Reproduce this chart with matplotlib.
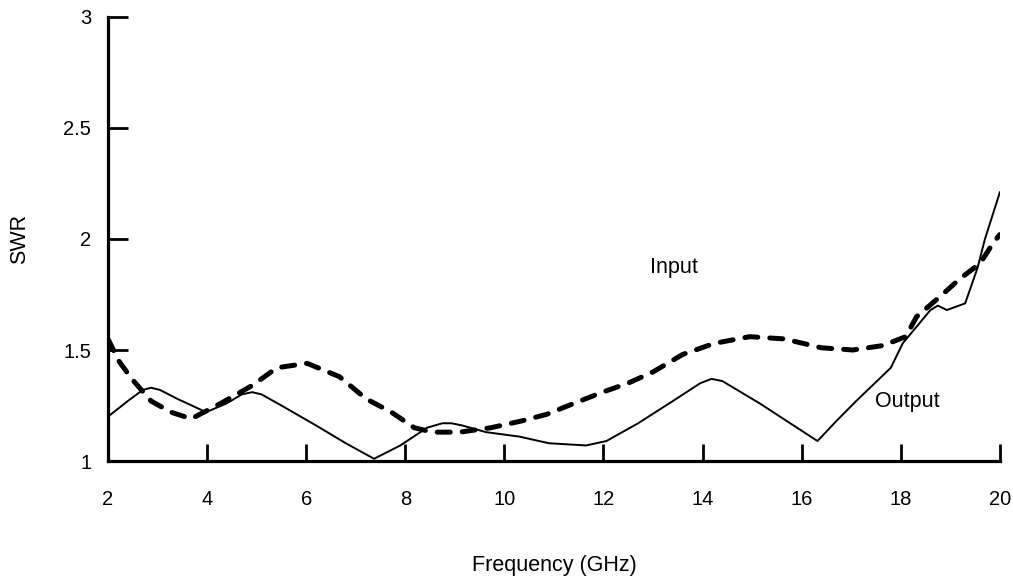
import matplotlib.pyplot as plt

# SWR vs frequency
freq_out = [2.0, 2.4, 2.7, 2.87, 3.05, 3.4, 3.98, 4.4, 4.7, 4.91, 5.1, 5.5, 6.2, 6.8, 7.37, 7.9, 8.44,
            8.75, 8.93, 9.15, 9.63, 10.3, 10.9, 11.65, 12.06, 12.7, 13.4, 13.95, 14.18, 14.4, 15.15,
            15.7, 16.32, 16.7, 17.1, 17.8, 18.04, 18.6, 18.75, 18.93, 19.3, 19.55, 19.7, 20.0]
swr_out = [1.20, 1.27, 1.32, 1.33, 1.32, 1.28, 1.22, 1.26, 1.30, 1.31, 1.30, 1.25, 1.16, 1.08, 1.01,
           1.07, 1.15, 1.17, 1.17, 1.16, 1.13, 1.11, 1.08, 1.07, 1.09, 1.17, 1.27, 1.35, 1.37, 1.36,
           1.26, 1.18, 1.09, 1.18, 1.27, 1.42, 1.53, 1.68, 1.70, 1.68, 1.71, 1.87, 2.0, 2.21]

freq_in = [2.0, 2.22, 2.48, 2.87, 3.27, 3.68, 4.28, 4.91, 5.41, 6.02, 6.67, 7.21, 7.72, 8.18, 8.55,
           9.1, 9.73, 10.34, 10.85, 11.41, 11.98, 12.49, 12.99, 13.6, 14.24, 14.95, 15.65, 16.4,
           17.03, 17.64, 18.1, 18.32, 18.79, 19.19, 19.6, 19.86, 20.0]
swr_in = [1.55, 1.45, 1.37, 1.27, 1.22, 1.19, 1.26, 1.34, 1.42, 1.44, 1.38, 1.28, 1.22, 1.15, 1.13,
          1.13, 1.15, 1.18, 1.21, 1.26, 1.31, 1.35, 1.40, 1.48, 1.53, 1.56, 1.55, 1.51,
          1.50, 1.52, 1.56, 1.65, 1.74, 1.82, 1.89, 1.98, 2.02]

x_ticks = [2, 4, 6, 8, 10, 12, 14, 16, 18, 20]
y_ticks = [1, 1.5, 2, 2.5, 3]
y_tick_labels = ['1', '1.5', '2', '2.5', '3']

plt.rcParams['font.family'] = ['Liberation Sans', 'DejaVu Sans']
plt.rcParams['font.size'] = 15.5

fig = plt.figure(figsize=(10.13, 5.82), dpi=100)
ax = fig.add_axes([0.1066, 0.2079, 0.8804, 0.7629])

ax.plot(freq_out, swr_out, color='black', lw=1.4, solid_joinstyle='round')
ax.plot(freq_in, swr_in, color='black', lw=3.6, dashes=(2.6, 2.4), dash_capstyle='round')

ax.text(13.43, 1.87, 'Input', ha='center', va='center')
ax.text(18.14, 1.27, 'Output', ha='center', va='center')

ax.set_xlim(2, 20)
ax.set_ylim(1, 3)
ax.set_xticks(x_ticks)
ax.set_yticks(y_ticks)
ax.set_yticklabels(y_tick_labels)

for s in ['top', 'right']:
    ax.spines[s].set_visible(False)
for s in ['left', 'bottom']:
    ax.spines[s].set_linewidth(2.3)

ax.tick_params(axis='x', direction='in', length=12, width=2, pad=21, labelsize=14.5)
ax.tick_params(axis='y', direction='in', length=14.5, width=2, pad=12, labelsize=14.5)

ax.set_ylabel('SWR', labelpad=24)
ax.set_xlabel('Frequency (GHz)', labelpad=33)

fig.savefig('out.png', dpi=100)
